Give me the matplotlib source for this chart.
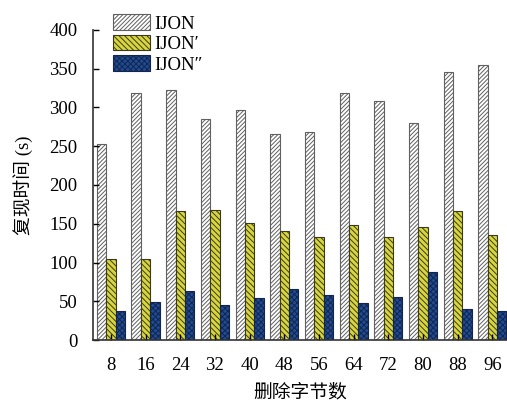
import numpy as np
import matplotlib.pyplot as plt

plt.rcParams['font.family'] = ['Liberation Serif', 'Noto Sans CJK SC']
plt.rcParams['hatch.linewidth'] = 0.7

sizes = ['8', '16', '24', '32', '40', '48', '56', '64', '72', '80', '88', '96']
ijon = [253, 319, 323, 285, 297, 266, 268, 318, 308, 280, 346, 355]
ijon_p = [105, 105, 167, 168, 151, 141, 133, 148, 133, 146, 167, 135]
ijon_pp = [37, 49, 63, 45, 54, 66, 58, 48, 56, 88, 40, 38]

fig = plt.figure(figsize=(5.07, 4.03), dpi=100)
ax = fig.add_axes([0.183, 0.156, 0.817, 0.77])

x = np.arange(len(sizes))
w = 0.27
ax.bar(x - w, ijon, w, color='white', edgecolor='#606060', hatch='////////',
       linewidth=0.8, label='IJON')
ax.bar(x, ijon_p, w, color='#d8d63c', edgecolor='#3a3a20', hatch='\\\\\\\\\\\\',
       linewidth=0.8, label='IJON\u2032')
ax.bar(x + w, ijon_pp, w, color='#1f4c96', edgecolor='#13254a', hatch='xxxxxx',
       linewidth=0.8, label='IJON\u2033')

ax.set_xlim(-0.52, 11.42)
ax.set_ylim(0, 400)
ax.set_yticks(range(0, 401, 50))
ax.set_xticks(x)
ax.set_xticklabels(sizes)
ax.tick_params(axis='both', direction='in', labelsize=13.5, length=4, width=1)
ax.tick_params(axis='y', pad=11)
ax.tick_params(axis='x', pad=12)
ax.spines['top'].set_visible(False)
ax.spines['right'].set_visible(False)
for s in ('left', 'bottom'):
    ax.spines[s].set_color('#333333')
    ax.spines[s].set_linewidth(1.2)

ax.set_ylabel('复现时间 (s)', fontsize=13.5, labelpad=12)
ax.set_xlabel('删除字节数', fontsize=13.5, labelpad=7)

ax.legend(loc='upper left', bbox_to_anchor=(0.026, 1.08), frameon=False,
          fontsize=13.5, handlelength=2.0, handleheight=0.9,
          handletextpad=0.2, labelspacing=0.12, borderpad=0)

fig.savefig('out.png', dpi=100)
